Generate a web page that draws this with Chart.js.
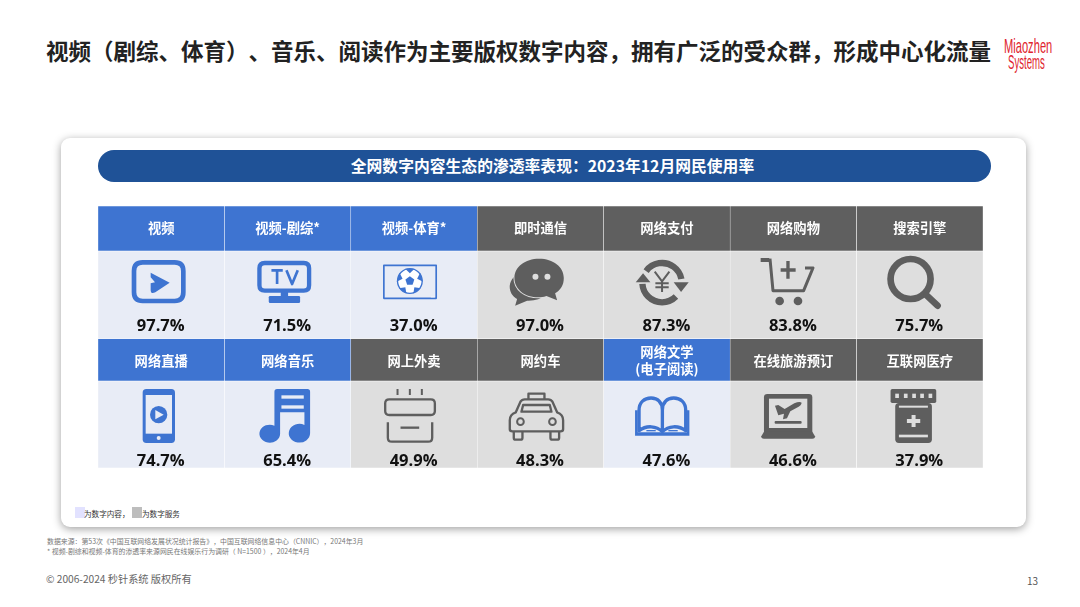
<!DOCTYPE html>
<html lang="zh"><head><meta charset="utf-8">
<script src="https://cdn.jsdelivr.net/npm/chart.js@4"></script>
<style>
html,body{margin:0;padding:0;background:#fff;width:1080px;height:607px;overflow:hidden;font-family:"Noto Sans CJK SC","Noto Sans",sans-serif;text-spacing-trim:space-all;font-feature-settings:"palt" 0}
.t{position:absolute;white-space:nowrap;line-height:1}
#card{position:absolute;left:61px;top:138px;width:965px;height:389px;background:#fff;border-radius:9px;box-shadow:0 2px 9px rgba(0,0,0,.38)}
#banner{position:absolute;left:98px;top:150px;width:877px;padding-left:16px;height:32px;line-height:32px;background:#1F5297;border-radius:16px;color:#fff;font-weight:700;font-size:15.8px;text-align:center}
#wrap{position:absolute;left:98px;top:206px;width:885px;height:262px}
.sw{position:absolute;width:10px;height:11px}
</style></head><body>
<div class="t" id="title" style="left:46px;top:39px;font-size:22.5px;font-weight:700;color:#222">视频（剧综、体育）、音乐、阅读作为主要版权数字内容，拥有广泛的受众群，形成中心化流量</div>
<div class="t" style="left:1004px;top:34px;font:400 21px 'Liberation Sans';color:#E0242E;transform:scaleX(.53);transform-origin:0 0">Miaozhen</div>
<div class="t" style="left:1008px;top:51px;font:400 20px 'Liberation Sans';color:#E0242E;transform:scaleX(.48);transform-origin:0 0">Systems</div>
<div id="card"></div>
<div id="banner">全网数字内容生态的渗透率表现：2023年12月网民使用率</div>
<div id="wrap"><canvas id="c"></canvas></div>
<div class="sw" style="left:75px;top:507px;background:#E2E2FF"></div>
<div class="t" style="left:84px;top:510px;font-size:7.6px;color:#333">为数字内容，</div>
<div class="sw" style="left:132px;top:507px;background:#BDBDBD"></div>
<div class="t" style="left:142px;top:510px;font-size:7.6px;color:#333">为数字服务</div>
<div class="t" style="left:47px;top:538px;font-size:6.9px;color:#777">数据来源：第53次《中国互联网络发展状况统计报告》，中国互联网络信息中心（CNNIC），2024年3月</div>
<div class="t" style="left:47px;top:548px;font-size:6.9px;color:#777">* 视频-剧综和视频-体育的渗透率来源网民在线娱乐行为调研（ N=1500 ），2024年4月</div>
<div class="t" style="left:46px;top:574px;font-size:10.2px;color:#666">© 2006-2024 秒针系统 版权所有</div>
<div class="t" style="left:1027px;top:576px;font-size:10px;color:#555">13</div>
<script>
const columns = ['第1列','第2列','第3列','第4列','第5列','第6列','第7列'];
const topNames = ['视频','视频-剧综*','视频-体育*','即时通信','网络支付','网络购物','搜索引擎'];
const topValues = [97.7,71.5,37.0,97.0,87.3,83.8,75.7];
const topKinds = ['content','content','content','service','service','service','service'];
const bottomNames = ['网络直播','网络音乐','网上外卖','网约车','网络文学\n(电子阅读)','在线旅游预订','互联网医疗'];
const bottomValues = [74.7,65.4,49.9,48.3,47.6,46.6,37.9];
const bottomKinds = ['content','content','service','service','content','service','service'];

const BLUE='#3E74D1', GRAY='#5E5E5E', BG={content:'#E8ECF6',service:'#DEDEDE'}, HEAD={content:BLUE,service:'#5F5F5F'};
// rows are bands on the vertical axis (layout only)
const bands={h1:[0,45],b1:[45,132.5],h2:[132.5,175],b2:[175,262]};
const span=(b)=>columns.map(()=>b);

function stroke(c,w,d,cap){c.lineWidth=w;c.lineCap=cap||'butt';c.lineJoin='round';c.stroke(new Path2D(d));}
function circ(x,y,r){return `M${x-r} ${y}a${r} ${r} 0 1 0 ${2*r} 0a${r} ${r} 0 1 0 ${-2*r} 0Z`;}
function rr(x,y,w,h,r){return `M${x+r} ${y}h${w-2*r}q${r} 0 ${r} ${r}v${h-2*r}q0 ${r} ${-r} ${r}h${-(w-2*r)}q${-r} 0 ${-r} ${-r}v${-(h-2*r)}q0 ${-r} ${r} ${-r}Z`;}

const icons={
 play(c,fg){c.translate(-25,-153);c.strokeStyle=fg;c.fillStyle=fg;
  stroke(c,14,rr(133,187,148,116,26));
  c.fill(new Path2D('M183 218L240 248L197 277Q183 284 183 270V250L196 247L183 232Z'));},
 tv(c,fg,bg){c.translate(-405,-153);c.strokeStyle=fg;c.fillStyle=fg;
  stroke(c,13,rr(510,189,149,83,16));
  stroke(c,8,'M546 211H580M563 211V252M591 211L608 252L625 211');
  c.fillRect(574,276,22,16);c.fill(new Path2D(rr(538,288,94,21,4)));},
 ball(c,fg,bg){c.translate(-785,-153);c.strokeStyle=fg;c.fillStyle=fg;
  stroke(c,5,'M884 196H1041V295H884Z');
  c.fillStyle='#fff';c.fillRect(1025,290,12,2);
  const cx=962,cy=243;c.fillStyle='#fff';c.fill(new Path2D(circ(cx,cy,37)));
  c.fillStyle=fg;stroke(c,4,circ(cx,cy,37));
  let p='';for(let i=0;i<5;i++){const a=-Math.PI/2+i*2*Math.PI/5;p+=(i?'L':'M')+(cx+14*Math.cos(a))+' '+(cy+14*Math.sin(a));}c.fill(new Path2D(p+'Z'));
  for(let i=0;i<5;i++){const a=-Math.PI/2+i*2*Math.PI/5,x=cx+37*Math.cos(a),y=cy+37*Math.sin(a);
   const t=a+Math.PI/2;c.fill(new Path2D(`M${x+14*Math.cos(t)} ${y+14*Math.sin(t)}L${cx+23*Math.cos(a)} ${cy+23*Math.sin(a)}L${x-14*Math.cos(t)} ${y-14*Math.sin(t)}Z`));}},
 chat(c,fg,bg){c.translate(7.5,-153);c.fillStyle=fg;
  c.fill(new Path2D('M125 218C100 225 88 245 90 265C92 282 102 292 112 297L106 317L142 302C165 303 185 296 196 285Z'));
  c.strokeStyle=bg;c.lineWidth=6;
  const b=new Path2D('M178 176C220 176 252 200 252 234C252 255 243 270 226 280L232 301L200 288C190 291 184 292 176 292C135 292 104 268 104 234C104 200 136 176 178 176Z');
  c.stroke(b);c.fill(b);
  c.fillStyle=bg;c.fill(new Path2D(circ(167,230,9)));c.fill(new Path2D(circ(203,230,9)));},
 yen(c,fg){c.translate(-372,-153);c.strokeStyle=fg;c.fillStyle=fg;
  c.lineWidth=19;c.beginPath();c.arc(547,248,59,Math.PI*1.2,Math.PI*1.94);c.stroke();
  c.beginPath();c.arc(547,248,59,Math.PI*.25,Math.PI*.98);c.stroke();
  c.fill(new Path2D('M468 247L512 247L490 220Z'));c.fill(new Path2D('M582 247L627 247L604 276Z'));
  stroke(c,6,'M525 215L547 244L569 215M527 250H567M527 262H567M547 244V276');},
 cart(c,fg){c.translate(-751.5,-153);c.strokeStyle=fg;c.fillStyle=fg;
  c.fillRect(843,174,26,12);
  stroke(c,9,'M871 176L880 272H972L1000 204H976');
  stroke(c,10,'M903 210H948M925 183V236');
  c.fill(new Path2D(circ(900,303,13)));c.fill(new Path2D(circ(955,303,13)));},
 search(c,fg){c.translate(-1131,-153);c.strokeStyle=fg;
  stroke(c,20,circ(1293,237,60));
  stroke(c,9,'M1335 279L1345 289');
  stroke(c,20,'M1342 287L1374 317','round');},
 phone(c,fg,bg){c.translate(-25,-138);c.fillStyle=fg;
  c.fill(new Path2D(rr(159,162,97,162,11)));
  c.fillStyle=bg;c.fillRect(168,180,79,116);c.fill(new Path2D(circ(207,309,6)));
  c.fillStyle=fg;c.fill(new Path2D(circ(207,239,26)));
  c.fillStyle=bg;c.fill(new Path2D('M197 225L222 239L197 253Z'));},
 music(c,fg,bg){c.translate(-405,-138);c.fillStyle=fg;
  c.fill(new Path2D('M563 162H654Q662 162 662 170V295A32 28 0 1 1 645 270V232H572V297A31 27 0 1 1 555 272V170Q555 162 563 162Z'));
  c.fillStyle=bg;c.fillRect(576,181,67,10);c.fillRect(576,211,67,10);},
 food(c,fg){c.translate(-785,-138);c.strokeStyle=fg;
  stroke(c,6,'M925 162V180M962 162V180M998 162V180');
  stroke(c,7,rr(888,193,149,47,12));
  stroke(c,7,'M896 262V308Q896 320 908 320H1017Q1029 320 1029 308V262');
  stroke(c,7,'M934 278H990');},
 taxi(c,fg){c.translate(7.5,-138);c.strokeStyle=fg;
  stroke(c,7,'M146 193V176H194V193');
  stroke(c,7,'M108 232L122 200Q126 193 135 193H205Q214 193 218 200L232 232Q250 238 250 256V283Q250 289 242 289H98Q90 289 90 283V256Q90 238 108 232Z');
  stroke(c,7,'M125 230L130 210H210L215 230Z');
  stroke(c,6,circ(122,260,10));stroke(c,6,circ(218,260,10));
  stroke(c,7,'M102 290V308Q102 314 108 314H122Q128 314 128 308V290M212 290V308Q212 314 218 314H232Q238 314 238 308V290');},
 book(c,fg){c.translate(-372,-138);c.strokeStyle=fg;c.fillStyle=fg;
  stroke(c,10,'M548 290V226C548 202 534 189 514 189C494 189 478 202 478 226V287C500 270 530 272 548 290ZM548 290V226C548 202 562 189 582 189C602 189 618 202 618 226V287C596 270 566 272 548 290Z');
  c.fill(new Path2D('M466 226H474V292H622V226H629V302H466Z'));
  c.fillRect(500,285,28,4);c.fillRect(566,285,28,4);},
 laptop(c,fg,bg){c.translate(-751.5,-138);c.fillStyle=fg;
  c.fill(new Path2D(rr(853,177,145,125,10)));
  c.fill(new Path2D('M853 290H998L1006 304Q1007 311 998 311H853Q844 311 845 304Z'));
  c.fillStyle=bg;c.fillRect(868,191,115,88);
  c.fillStyle=fg;
  c.fill(new Path2D('M886 212L896 210L915 222L944 205Q960 198 966 203Q966 211 950 219L932 229L922 250L910 253L913 236L896 241Z'));
  c.fill(new Path2D(rr(885,258,81,8,3)));},
 bottle(c,fg,bg){c.translate(-1131,-138);c.fillStyle=fg;
  c.fill(new Path2D(rr(1233,162,137,42,5)));
  c.fill(new Path2D(rr(1247,204,110,120,11)));
  c.fillStyle=bg;[1247,1273,1298,1322,1347].forEach(x=>c.fillRect(x,176,11,13));
  c.fillRect(1258,299,87,8);c.fillRect(1258,212,87,6);
  c.fill(new Path2D('M1296 240H1308V252H1322V264H1308V276H1296V264H1282V252H1296Z'));}
};
const topIcons=['play','tv','ball','chat','yen','cart','search'];
const bottomIcons=['phone','music','food','taxi','book','laptop','bottle'];

const cellContent={id:'cellContent',afterDatasetsDraw(chart){
  const c=chart.ctx,y=chart.scales.y,x=chart.scales.x;
  const rows=[
   {names:topNames,vals:topValues,kinds:topKinds,icons:topIcons,h:bands.h1,b:bands.b1,vy:y.getPixelForValue(120),dh:-.5},
   {names:bottomNames,vals:bottomValues,kinds:bottomKinds,icons:bottomIcons,h:bands.h2,b:bands.b2,vy:y.getPixelForValue(255),dh:.8}
  ];
  rows.forEach(r=>{
   r.names.forEach((n,i)=>{
    const cx=x.getPixelForValue(i), hy=y.getPixelForValue((r.h[0]+r.h[1])/2)+r.dh;
    const left=x.getPixelForValue(i)-x.width/14, top=y.getPixelForValue(r.b[0]);
    c.save();c.textAlign='center';c.textBaseline='middle';c.fillStyle='#fff';
    c.font='700 13.3px "Noto Sans CJK SC"';
    const ls=n.split('\n');
    ls.forEach((l,k)=>c.fillText(l,cx,hy+(k-(ls.length-1)/2)*17.5));
    c.fillStyle='#111';c.font='700 16.5px "Open Sans","Noto Sans"';
    c.fillText(r.vals[i].toFixed(1)+'%',cx-.5,r.vy);
    c.restore();
    c.save();c.translate(left,top);c.scale(1/3,1/3);
    icons[r.icons[i]](c,r.kinds[i]==='content'?BLUE:GRAY,BG[r.kinds[i]]);
    c.restore();
   });
  });
}};
const ds=(band,kinds,map)=>({data:span(band),backgroundColor:kinds.map(k=>map[k]),borderColor:'#fff',borderWidth:{left:.5,right:.5,top:.5,bottom:.5},borderSkipped:false,grouped:false,barPercentage:1,categoryPercentage:1});
new Chart(document.getElementById('c'),{
 type:'bar',
 data:{labels:columns,datasets:[ds(bands.h1,topKinds,HEAD),ds(bands.b1,topKinds,BG),ds(bands.h2,bottomKinds,HEAD),ds(bands.b2,bottomKinds,BG)]},
 options:{responsive:true,maintainAspectRatio:false,animation:false,
  layout:{padding:0},
  plugins:{legend:{display:false},tooltip:{enabled:false},title:{display:false}},
  scales:{x:{display:false,offset:true},y:{display:false,reverse:true,min:0,max:262}}},
 plugins:[cellContent]
});
</script>
</body></html>
